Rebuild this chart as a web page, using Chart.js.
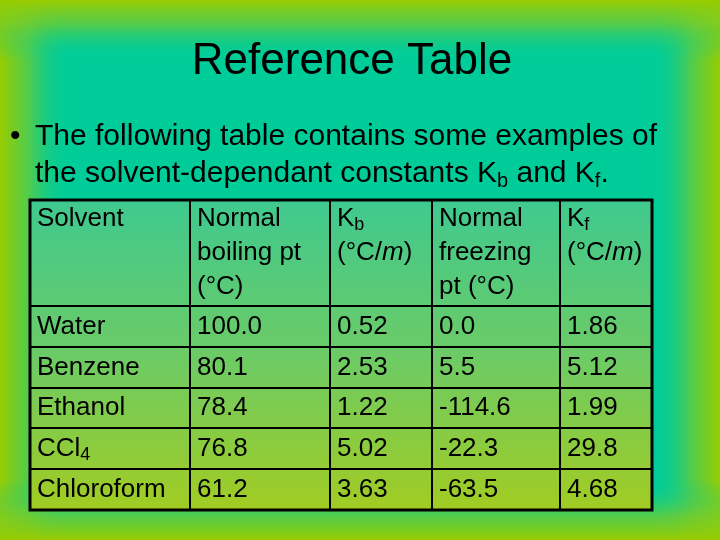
<!DOCTYPE html>
<html>
<head>
<meta charset="utf-8">
<script src="https://cdn.jsdelivr.net/npm/chart.js@4"></script>
<style>
  html, body { margin: 0; padding: 0; background: #00cc99; }
  canvas { display: block; }
</style>
</head>
<body>
<canvas id="slide" width="720" height="540"></canvas>
<script>
// table contents (segments: [text, kind]; 1 = subscript, 2 = italic)
const headers = [
  [[["Solvent", 0]]],
  [[["Normal", 0]], [["boiling pt", 0]], [["(°C)", 0]]],
  [[["K", 0], ["b", 1]], [["(°C/", 0], ["m", 2], [")", 0]]],
  [[["Normal", 0]], [["freezing", 0]], [["pt (°C)", 0]]],
  [[["K", 0], ["f", 1]], [["(°C/", 0], ["m", 2], [")", 0]]]
];
const solvents = [[["Water", 0]], [["Benzene", 0]], [["Ethanol", 0]], [["CCl", 0], ["4", 1]], [["Chloroform", 0]]];
const boilingPts = ["100.0", "80.1", "78.4", "76.8", "61.2"];
const kbValues = ["0.52", "2.53", "1.22", "5.02", "3.63"];
const freezingPts = ["0.0", "5.5", "-114.6", "-22.3", "-63.5"];
const kfValues = ["1.86", "5.12", "1.99", "29.8", "4.68"];

// column widths and row heights in table units
const colEdges = [0, 160, 300, 402, 530, 622];
const rowEdges = [0, 106, 147, 188, 228, 269, 310];

const font = "'Liberation Sans', Arial, sans-serif";

function drawRuns(ctx, runs, x, y, size) {
  runs.forEach(([t, kind]) => {
    if (kind === 1) {
      ctx.font = `${Math.round(size * 0.68)}px ${font}`;
      ctx.fillText(t, x, y + size * 0.25);
    } else {
      ctx.font = `${kind === 2 ? "italic " : ""}${size}px ${font}`;
      ctx.fillText(t, x, y);
    }
    x += ctx.measureText(t).width;
  });
}

function edge(ctx, x0, y0, x1, y1, rx, ry, rw, rh) {
  const g = ctx.createLinearGradient(x0, y0, x1, y1);
  g.addColorStop(0, "rgba(153,204,0,1)");
  g.addColorStop(0.4, "rgba(120,204,40,0.7)");
  g.addColorStop(1, "rgba(0,204,153,0)");
  ctx.fillStyle = g;
  ctx.fillRect(rx, ry, rw, rh);
}

const slidePlugin = {
  id: "slide",
  beforeDraw(chart) {
    const { ctx, width: w, height: h } = chart;
    ctx.save();
    ctx.fillStyle = "#00cc99";
    ctx.fillRect(0, 0, w, h);
    edge(ctx, 0, 0, 70, 0, 0, 0, 70, h);
    edge(ctx, w, 0, w - 70, 0, w - 70, 0, 70, h);
    edge(ctx, 0, 0, 0, 60, 0, 0, w, 60);
    edge(ctx, 0, h, 0, h - 60, 0, h - 60, w, 60);
    ctx.restore();

    ctx.save();
    ctx.fillStyle = "#000";
    ctx.textBaseline = "middle";
    ctx.textAlign = "center";
    ctx.font = `44px ${font}`;
    ctx.fillText("Reference Table", 352, 62);
    ctx.textAlign = "left";
    ctx.font = `30px ${font}`;
    ctx.fillText("•", 10, 137);
    ctx.fillText("The following table contains some examples of", 35, 137);
    drawRuns(ctx, [["the solvent-dependant constants K", 0], ["b", 1], [" and K", 0], ["f", 1], [".", 0]], 35, 174, 30);
    ctx.restore();
  },
  afterDraw(chart) {
    const { ctx, chartArea: a } = chart;
    const xs = chart.scales.x, ys = chart.scales.y;
    ctx.save();
    const g = ctx.createLinearGradient(0, a.top, 0, a.bottom);
    g.addColorStop(0, "#3fc98f");
    g.addColorStop(0.5, "#6ccb66");
    g.addColorStop(1, "#a2cc22");
    ctx.fillStyle = g;
    ctx.fillRect(a.left, a.top, a.right - a.left, a.bottom - a.top);

    ctx.strokeStyle = "#000";
    ctx.lineWidth = 3;
    ctx.strokeRect(a.left, a.top, a.right - a.left, a.bottom - a.top);
    ctx.lineWidth = 2;
    ctx.beginPath();
    colEdges.slice(1, -1).forEach(v => {
      const x = xs.getPixelForValue(v);
      ctx.moveTo(x, a.top); ctx.lineTo(x, a.bottom);
    });
    rowEdges.slice(1, -1).forEach(v => {
      const y = ys.getPixelForValue(v);
      ctx.moveTo(a.left, y); ctx.lineTo(a.right, y);
    });
    ctx.stroke();

    ctx.fillStyle = "#000";
    ctx.textBaseline = "middle";
    ctx.textAlign = "left";
    const size = 26;
    headers.forEach((lines, c) => {
      const x = xs.getPixelForValue(colEdges[c]) + 7;
      lines.forEach((runs, i) => {
        drawRuns(ctx, runs, x, ys.getPixelForValue(rowEdges[0]) + 19 + i * 34, size);
      });
    });
    const cols = [solvents, boilingPts, kbValues, freezingPts, kfValues];
    cols.forEach((col, c) => {
      const x = xs.getPixelForValue(colEdges[c]) + 7;
      col.forEach((v, r) => {
        const y = (ys.getPixelForValue(rowEdges[r + 1]) + ys.getPixelForValue(rowEdges[r + 2])) / 2;
        drawRuns(ctx, typeof v === "string" ? [[v, 0]] : v, x, y, size);
      });
    });
    ctx.restore();
  }
};

new Chart(document.getElementById("slide"), {
  type: "scatter",
  data: { datasets: [{ data: [] }] },
  options: {
    responsive: false,
    animation: false,
    layout: { padding: { left: 30, top: 200, right: 68, bottom: 30 } },
    plugins: { legend: { display: false }, tooltip: { enabled: false } },
    scales: {
      x: { type: "linear", min: colEdges[0], max: colEdges[colEdges.length - 1], display: false },
      y: { type: "linear", reverse: true, min: rowEdges[0], max: rowEdges[rowEdges.length - 1], display: false }
    }
  },
  plugins: [slidePlugin]
});
</script>
</body>
</html>
